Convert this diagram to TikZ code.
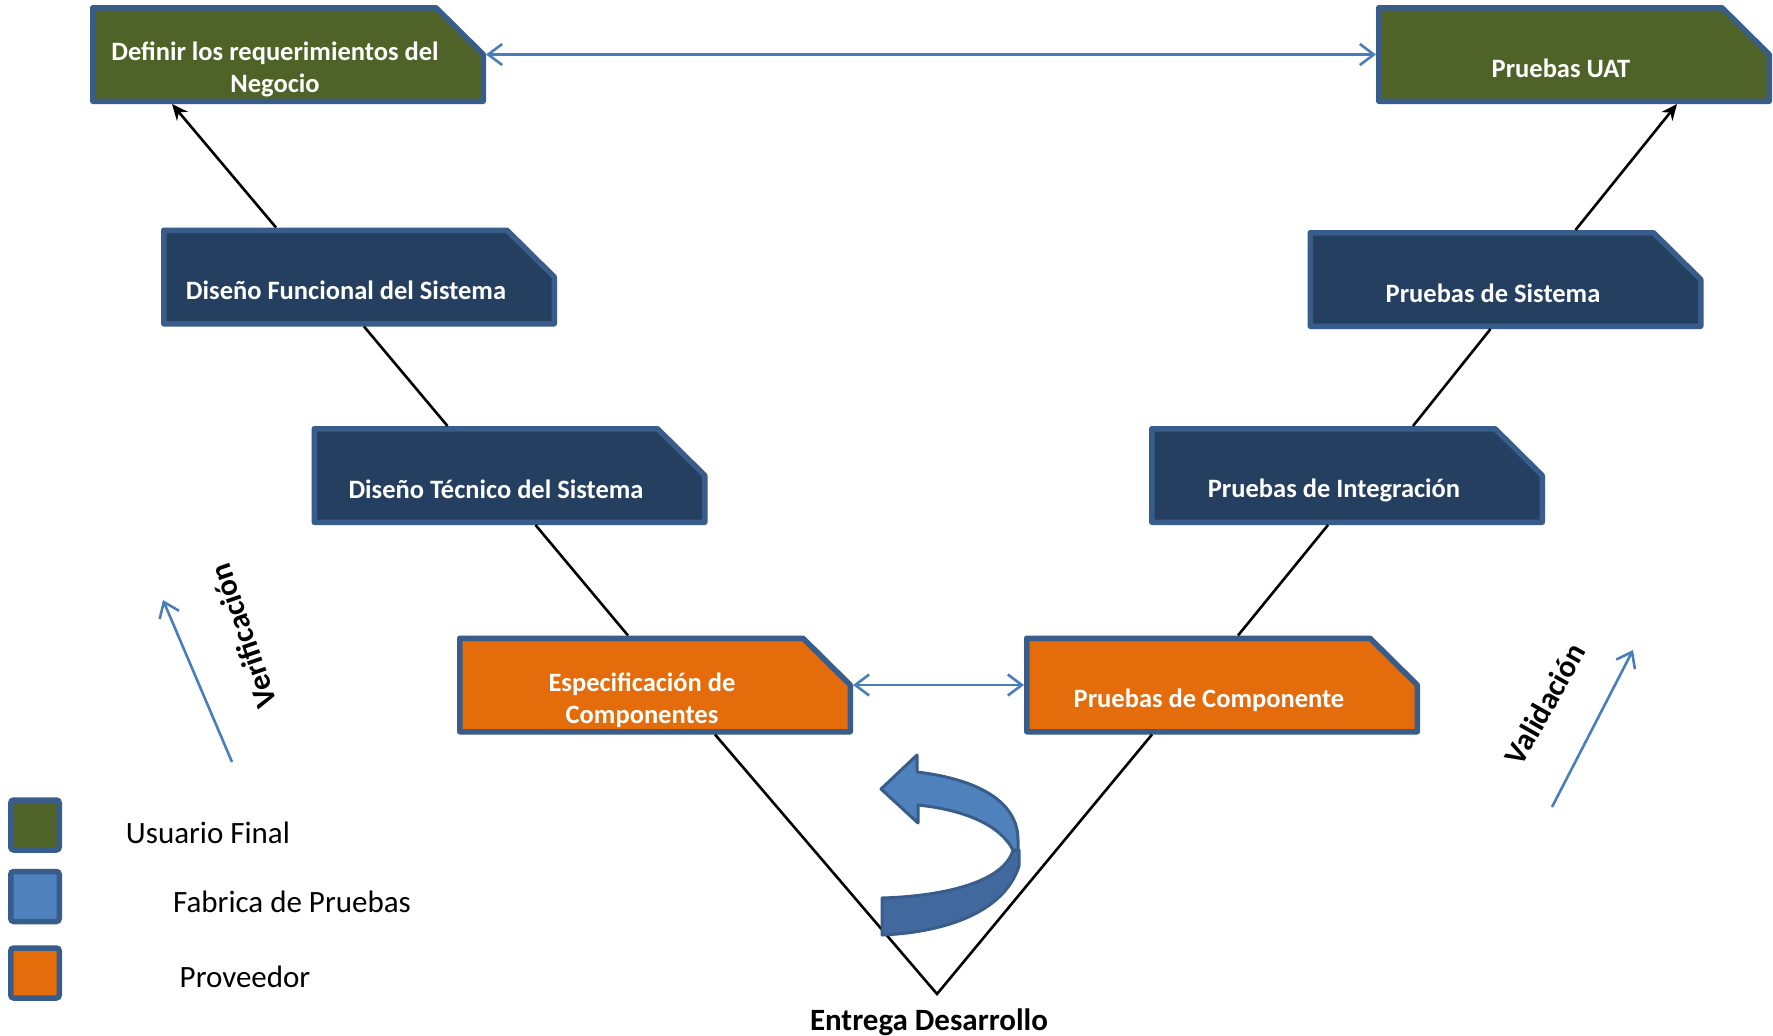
\documentclass[tikz,border=0pt]{standalone}
\usepackage{fontspec}
\setmainfont{Carlito}
\usetikzlibrary{arrows.meta,calc}
\definecolor{vgreen}{HTML}{4F6228}
\definecolor{vnavy}{HTML}{243F60}
\definecolor{vorange}{HTML}{E46C0A}
\definecolor{vborder}{HTML}{385D8A}
\definecolor{vblue}{HTML}{4F81BD}
\definecolor{vline}{HTML}{4A7EBB}
\definecolor{vdark}{HTML}{41699E}
\tikzset{
  boxnode/.style={rectangle, minimum width=396pt, minimum height=99pt, inner sep=0pt, outer sep=0pt},
  boxline/.style={draw=vborder, line width=5.5pt, line join=round},
  boxtext/.style={text=white, font=\fontsize{26.5}{32}\selectfont\bfseries, align=center, inner sep=0pt},
  conn/.style={black, line width=2.6pt},
  connarrow/.style={conn, -{Stealth[length=16pt,width=14pt]}},
  barb/.tip={Straight Barb[length=14pt,width=21pt]},
  bluedouble/.style={vline, line width=2.6pt, barb-barb},
  bluesingle/.style={vline, line width=2.6pt, -barb},
  sidetext/.style={font=\fontsize{31}{37}\selectfont\bfseries, inner sep=0pt},
  legbox/.style={rectangle, minimum width=48.5pt, minimum height=50pt, draw=vborder, line width=5.5pt, rounded corners=3pt},
  legtext/.style={font=\fontsize{31}{37}\selectfont, inner sep=0pt},
  uturn/.style={draw=vborder, line width=3pt, line join=round}
}
\newcommand{\chbox}[3]{%
  \node[boxnode] (#1) at (#2) {};
  \filldraw[boxline, fill=#3] ($(#1.south west)+(2.75,-2.75)$) -- ($(#1.north west)+(2.75,2.75)$)
    -- ($(#1.north east)+(-50,2.75)$) -- ($(#1.east)+(-2.75,0)$) -- ($(#1.south east)+(-2.75,-2.75)$) -- cycle;
}
\begin{document}
\begin{tikzpicture}[x=1pt,y=-1pt]
\useasboundingbox[fill=white] (0,0) rectangle (1773,1036);

% boxes
\chbox{n1}{288,54.5}{vgreen}
\chbox{n2}{1574,54.5}{vgreen}
\chbox{n3}{359,277}{vnavy}
\chbox{n4}{1505.5,279.5}{vnavy}
\chbox{n5}{509.5,475.5}{vnavy}
\chbox{n6}{1347,475.5}{vnavy}
\chbox{n7}{655,685}{vorange}
\chbox{n8}{1222,685}{vorange}

% texts in boxes
\node[boxtext] (t1) at (275,69.5) {Definir los requerimientos del\\Negocio};
\node[boxtext] (t2) at (1561,68) {Pruebas UAT};
\node[boxtext] (t3) at (346,290) {Diseño Funcional del Sistema};
\node[boxtext] (t4) at (1493,293) {Pruebas de Sistema};
\node[boxtext] (t5) at (496,489) {Diseño Técnico del Sistema};
\node[boxtext] (t6) at (1334,490.5) {Pruebas de Integración};
\node[boxtext] (t7) at (642,700.5) {Especificación de\\Componentes};
\node[boxtext] (t8) at (1209,700.5) {Pruebas de Componente};

% black connectors
\draw[connarrow] ($(n3.north west)+(115,0)$) -- ($(n1.south west)+(82,0)$);
\draw[conn] ($(n5.north west)+(136,0)$) -- ($(n3.south west)+(203,0)$);
\draw[conn] ($(n7.north west)+(171,0)$) -- ($(n5.south west)+(224,0)$);
\coordinate (v) at (937,994);
\draw[conn] ($(n7.south west)+(258,0)$) -- (v) -- ($(n8.south west)+(128,0)$);
\draw[conn] ($(n8.north west)+(214,0)$) -- ($(n6.south west)+(179,0)$);
\draw[conn] ($(n6.north west)+(264,0)$) -- ($(n4.south west)+(183,0)$);
\draw[connarrow] ($(n4.north west)+(268,0)$) -- ($(n2.south west)+(301,0)$);

% blue double arrows
\draw[bluedouble] (n1.east) -- (n2.west);
\draw[bluedouble] (n7.east) -- (n8.west);

% bottom label
\node[sidetext] (ent) at (929,1022) {Entrega Desarrollo};

% verification / validation
\coordinate (verA) at (232,762);
\coordinate (verB) at (163,600);
\draw[bluesingle] (verA) -- (verB);
\node[sidetext, rotate=109] (vert) at (243,636) {Verificación};
\coordinate (valA) at (1552,807);
\coordinate (valB) at (1633,650);
\draw[bluesingle] (valA) -- (valB);
\node[sidetext, rotate=60.5] (valt) at (1545,704) {Validación};

% U-turn arrow
\filldraw[uturn, fill=vdark] (1013,850) -- (1019,850) -- (1019,866)
  .. controls (1005,910) and (950,932) .. (882,935) -- (882,898)
  .. controls (950,896) and (1005,880) .. (1013,850) -- cycle;
\filldraw[uturn, fill=vblue] (917,772) .. controls (975,779) and (1018,800) .. (1018,840)
  -- (1018,850) -- (1013,850) .. controls (1000,825) and (965,810) .. (918,805)
  -- (918,823) -- (881,789) -- (917,755) -- cycle;

% legend
\node[legbox, fill=vgreen] (lg1) at (35,825) {};
\node[legbox, fill=vblue] (lg2) at (35,896.5) {};
\node[legbox, fill=vorange] (lg3) at (35,973) {};
\node[legtext] (lt1) at (208,833) {Usuario Final};
\node[legtext] (lt2) at (292,902) {Fabrica de Pruebas};
\node[legtext] (lt3) at (245,977) {Proveedor};
\end{tikzpicture}
\end{document}
